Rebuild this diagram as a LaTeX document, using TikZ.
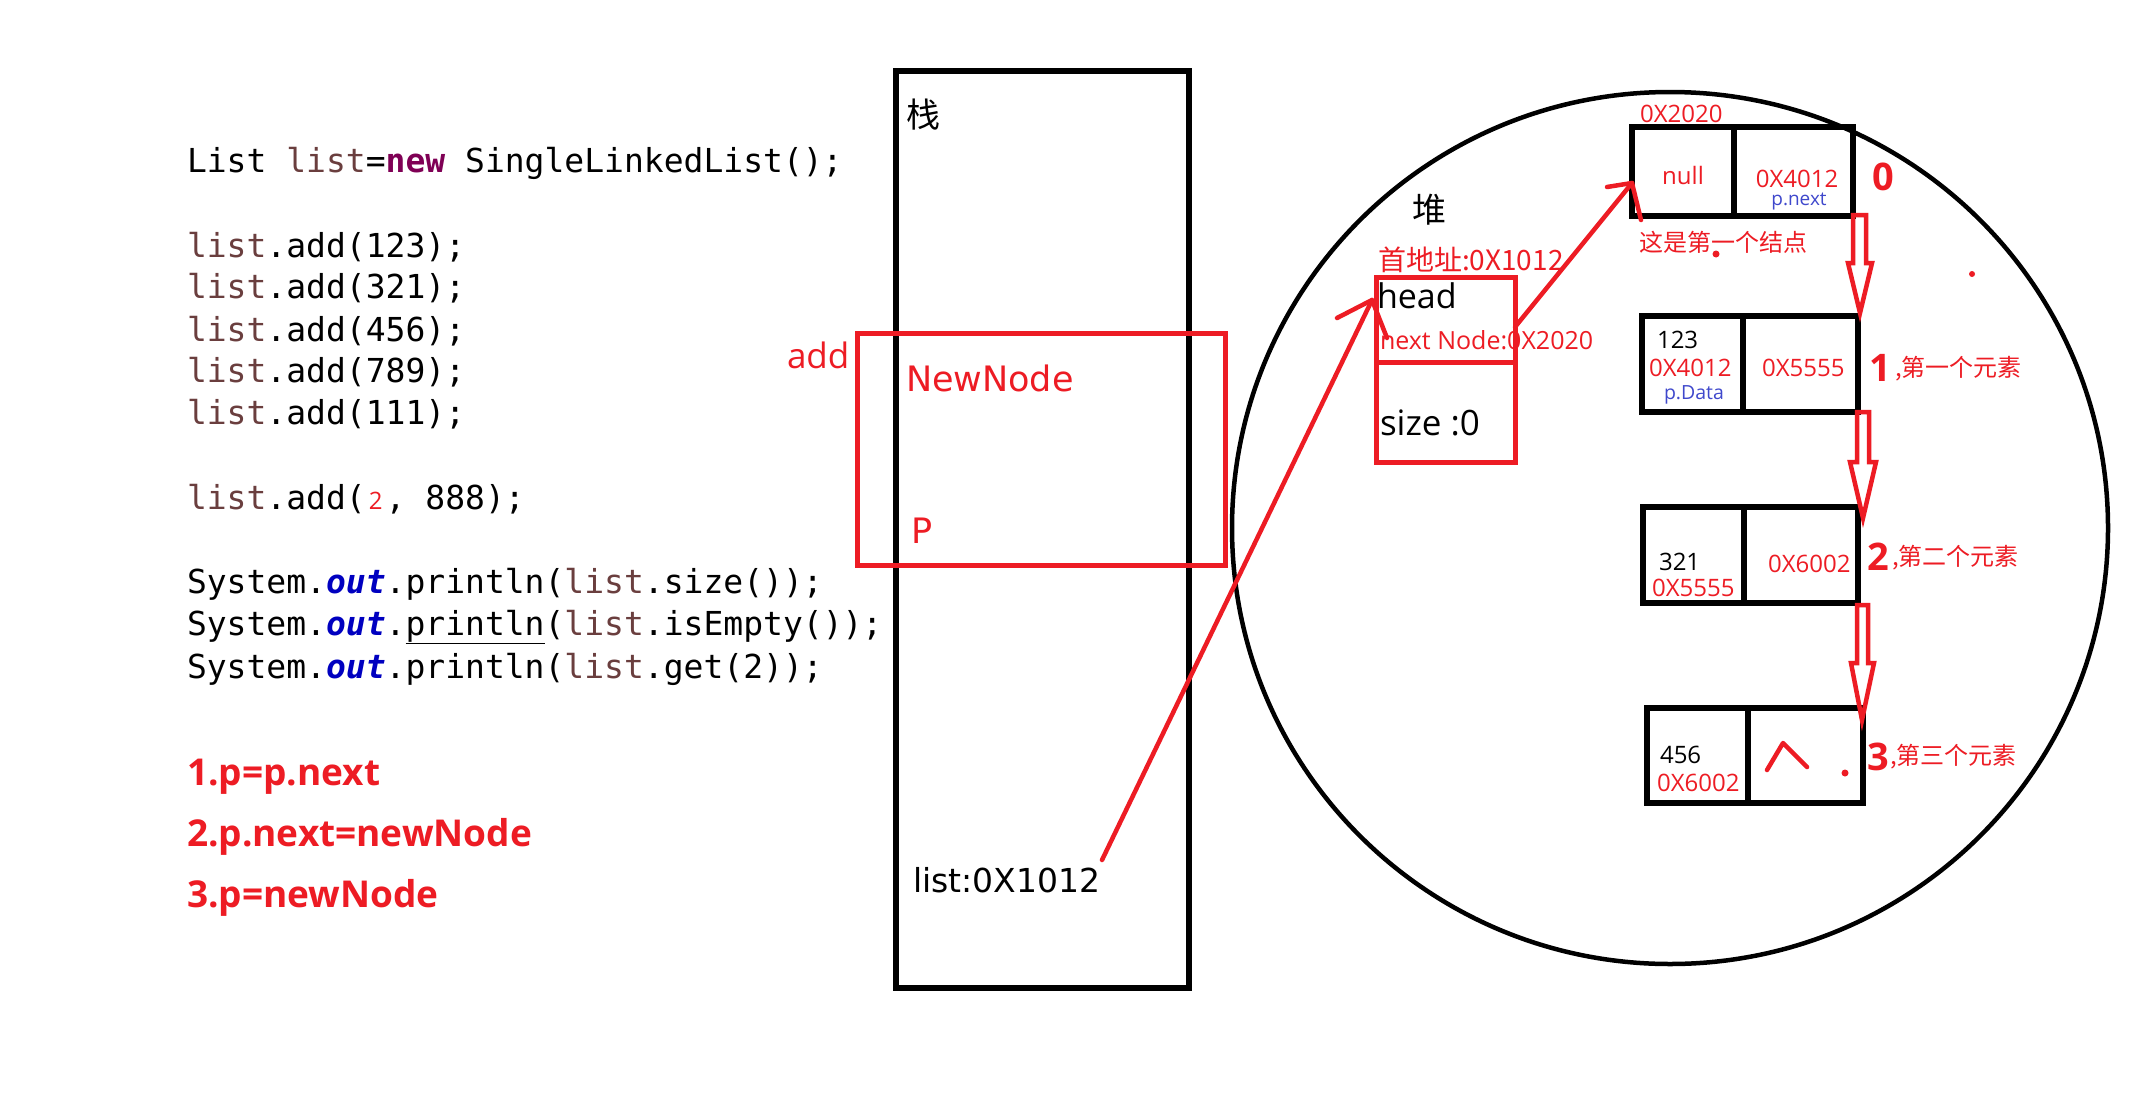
\documentclass[tikz,border=0pt]{standalone}
\usepackage{fontspec}
\setmainfont{Open Sans}
\newfontfamily\cjk{Noto Sans CJK SC}
\newfontfamily\codef{DejaVu Sans Mono}
\newfontfamily\dvs{DejaVu Sans}
\definecolor{pred}{RGB}{237,28,36}
\definecolor{pblue}{RGB}{63,72,204}
\definecolor{cvar}{RGB}{106,62,62}
\definecolor{ckw}{RGB}{127,0,85}
\definecolor{cfld}{RGB}{0,0,192}
\newcommand\fs[1]{\fontsize{#1}{#1}\selectfont}
\newcommand\bkarrow[8]{\draw[blockarr] (#1,#3) -- (#2,#3) -- (#2,#4) -- (#6,#4) -- (#7,#8) -- (#5,#4) -- (#1,#4) -- cycle;}
\begin{document}
\begin{tikzpicture}[x=1pt,y=-1pt,
  txt/.style={inner sep=0pt, outer sep=0pt, anchor=base west},
  ctxt/.style={inner sep=0pt, outer sep=0pt, anchor=base},
  code/.style={txt, font=\codef\fs{33}},
  steps/.style={txt, text=pred, font=\bfseries\fs{37}},
  stk/.style={txt, font=\dvs\fs{33}},
  small/.style={font=\fs{24}},
  cell/.style={draw, line width=5.5pt, inner sep=0pt, outer sep=0pt},
  redcell/.style={cell, draw=pred, line width=5pt},
  redline/.style={draw=pred, line width=4.5pt, line cap=round, line join=round},
  blockarr/.style={draw=pred, line width=4.5pt, line join=miter},
  idx/.style={ctxt, text=pred, font=\bfseries\fs{38}},
  elem/.style={txt, text=pred, font=\cjk\fs{24}},
]
\useasboundingbox (0,0) rectangle (2146,1106);
\fill[white] (0,0) rectangle (2146,1106);

% ---- code ----
\node[code] (c1) at (187,172) {List \textcolor{cvar}{list}=\textcolor{ckw}{\bfseries new} SingleLinkedList();};
\node[code] (c2) at (187,257) {\textcolor{cvar}{list}.add(123);};
\node[code] (c3) at (187,298) {\textcolor{cvar}{list}.add(321);};
\node[code] (c4) at (187,341) {\textcolor{cvar}{list}.add(456);};
\node[code] (c5) at (187,382) {\textcolor{cvar}{list}.add(789);};
\node[code] (c6) at (187,424) {\textcolor{cvar}{list}.add(111);};
\node[code] (c7) at (187,509) {\textcolor{cvar}{list}.add(\makebox[19.9pt][c]{\normalfont\fs{24}\textcolor{pred}{2}}, 888);};
\node[code] (c8) at (187,593) {System.\textcolor{cfld}{\bfseries\itshape out}.println(\textcolor{cvar}{list}.size());};
\node[code] (c9) at (187,635) {System.\textcolor{cfld}{\bfseries\itshape out}.\underline{println}(\textcolor{cvar}{list}.isEmpty());};
\node[code] (c10) at (187,678) {System.\textcolor{cfld}{\bfseries\itshape out}.println(\textcolor{cvar}{list}.get(2));};

\node[steps] (s1) at (187,785) {1.p=p.next};
\node[steps] (s2) at (187,846) {2.p.next=newNode};
\node[steps] (s3) at (187,907) {3.p=newNode};

% ---- stack ----
\node[cell, minimum width=293pt, minimum height=917pt] (stack) at (1042.5,529.5) {};
\node[txt, font=\cjk\fs{34}] (zhan) at (906,127) {栈};
\node[stk] (listaddr) at (913,892) {list:0X1012};
\node[redcell, minimum width=368pt, minimum height=232pt] (addbox) at (1041,449) {};
\node[txt, text=pred, font=\fs{35}] (addlbl) at (787,368) {add};
\node[stk, text=pred, font=\dvs\fs{35}] (newnode) at (906,391) {NewNode};
\node[stk, text=pred, font=\dvs\fs{35}] (plbl) at (911,543) {P};

% ---- heap ----
\draw[line width=4.5pt] (1670,528) ellipse [x radius=438, y radius=436];
\node[txt, font=\cjk\fs{34}] (dui) at (1412,222) {堆};
\node[txt, text=pred, font=\cjk\fs{28}] (firstaddr) at (1378,270) {首地址:0X1012};
\node[redcell, minimum width=139pt, minimum height=85pt] (headtop) at (1445.5,319.5) {};
\node[redcell, minimum width=139pt, minimum height=100pt] (headbot) at (1445.5,412) {};
\node[txt, font=\fs{34}] (headlbl) at (1377,308) {head};
\node[txt, text=pred, font=\fs{25}] (nextlbl) at (1380,349) {next Node:0X2020};
\node[txt, font=\fs{35}] (sizelbl) at (1380,435) {size :0};

% node 0
\node[cell, minimum width=102pt, minimum height=89pt] (n0a) at (1683,171.5) {};
\node[cell, minimum width=119pt, minimum height=89pt] (n0b) at (1793.5,171.5) {};
\node[txt, text=pred, small] (a0) at (1640,122) {0X2020};
\node[ctxt, text=pred, small] (null) at (1683,184) {null};
\node[ctxt, text=pred, small] (n0next) at (1797,187) {0X4012};
\node[ctxt, text=pblue, font=\fs{19}] (pnext) at (1799,205) {p.next};
\node[idx] (i0) at (1883,190) {0};
\node[elem] (first) at (1639,251) {这是第一个结点};

% node 1
\node[cell, minimum width=101pt, minimum height=96pt] (n1a) at (1692.5,364) {};
\node[cell, minimum width=115pt, minimum height=96pt] (n1b) at (1800.5,364) {};
\node[txt, small] (v1) at (1657,348) {123};
\node[txt, text=pred, small] (a1) at (1649,376) {0X4012};
\node[txt, text=pblue, font=\fs{19.5}] (pdata) at (1664,399) {p.Data};
\node[txt, text=pred, small] (n1next) at (1762,376) {0X5555};
\node[idx, anchor=base west] (i1) at (1869,381) {1};
\node[elem] (e1) at (1895,376) {,第一个元素};

% node 2
\node[cell, minimum width=101pt, minimum height=96pt] (n2a) at (1693.5,555) {};
\node[cell, minimum width=114pt, minimum height=96pt] (n2b) at (1801,555) {};
\node[txt, small] (v2) at (1659,570) {321};
\node[txt, text=pred, small] (a2) at (1652,596) {0X5555};
\node[txt, text=pred, small] (n2next) at (1768,572) {0X6002};
\node[idx, anchor=base west] (i2) at (1867,570) {2};
\node[elem] (e2) at (1892,565) {,第二个元素};

% node 3
\node[cell, minimum width=101pt, minimum height=95pt] (n3a) at (1697.5,755.5) {};
\node[cell, minimum width=115pt, minimum height=95pt] (n3b) at (1805.5,755.5) {};
\node[txt, small] (v3) at (1660,763) {456};
\node[txt, text=pred, small] (a3) at (1657,791) {0X6002};
\node[idx, anchor=base west] (i3) at (1867,770) {3};
\node[elem] (e3) at (1890,764) {,第三个元素};
\draw[redline] (1767,770) -- (1783,743) -- (1807,767);
\fill[pred] (1845,773) circle (3.5);
\fill[pred] (1716,254) circle (3.5);
\fill[pred] (1972,274) circle (3);

% ---- block arrows ----
\bkarrow{1853}{1866}{215}{263}{1848}{1872}{1860}{313}
\bkarrow{1857}{1869}{412}{462}{1850}{1876}{1863}{518}
\bkarrow{1857}{1868}{605}{663}{1851}{1874}{1862}{720}

% ---- pointer arrows ----
\coordinate (aStart) at (1102,860);
\coordinate (aTip) at (1372,300);
\draw[redline] (aStart) -- (aTip);
\draw[redline] (1337,318) -- (aTip) -- (1387,338);
\coordinate (bStart) at (1515,327);
\coordinate (bTip) at (1632,183);
\draw[redline] (bStart) -- (bTip);
\draw[redline] (1607,187) -- (bTip) -- (1641,220);
\end{tikzpicture}
\end{document}
